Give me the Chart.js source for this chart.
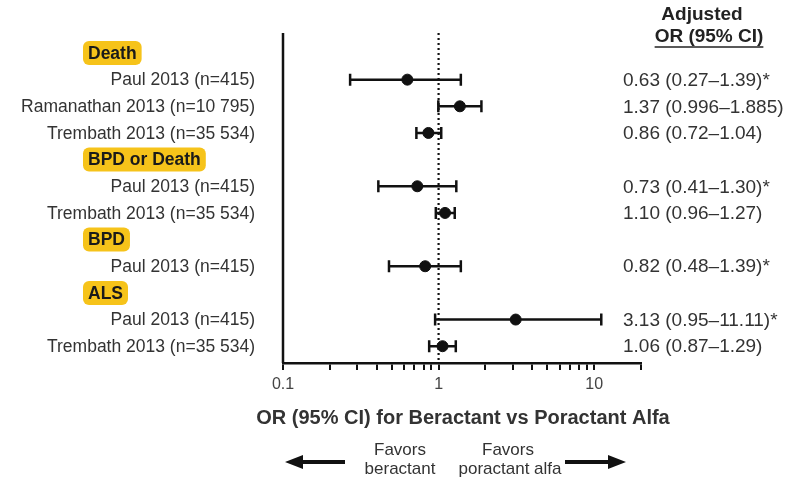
<!DOCTYPE html>
<html>
<head>
<meta charset="utf-8">
<script src="https://cdn.jsdelivr.net/npm/chart.js@4/dist/chart.umd.min.js"></script>
<style>
  html, body { margin: 0; padding: 0; background: #fff; }
  #wrap { width: 808px; height: 481px; }
</style>
</head>
<body>
<div id="wrap"><canvas id="forest" width="808" height="481"></canvas></div>
<script>
const groups = ['Death', 'BPD or Death', 'BPD', 'ALS'];
const studies = [
    'Paul 2013 (n=415)', 'Ramanathan 2013 (n=10 795)', 'Trembath 2013 (n=35 534)',
    'Paul 2013 (n=415)', 'Trembath 2013 (n=35 534)',
    'Paul 2013 (n=415)',
    'Paul 2013 (n=415)', 'Trembath 2013 (n=35 534)'
];
const studyGroup = [0, 0, 0, 1, 1, 2, 3, 3];
const oddsRatio = [0.63, 1.37, 0.86, 0.73, 1.10, 0.82, 3.13, 1.06];
const ciLow = [0.27, 0.996, 0.72, 0.41, 0.96, 0.48, 0.95, 0.87];
const ciHigh = [1.39, 1.885, 1.04, 1.30, 1.27, 1.39, 11.11, 1.29];
const orText = [
    '0.63 (0.27\u20131.39)*', '1.37 (0.996\u20131.885)', '0.86 (0.72\u20131.04)',
    '0.73 (0.41\u20131.30)*', '1.10 (0.96\u20131.27)',
    '0.82 (0.48\u20131.39)*',
    '3.13 (0.95\u201311.11)*', '1.06 (0.87\u20131.29)'
];
const xTicks = [0.1, 0.2, 0.3, 0.4, 0.5, 0.6, 0.7, 0.8, 0.9, 1, 2, 3, 4, 5, 6, 7, 8, 9, 10, 20];
const xTickLabels = { 0.1: '0.1', 1: '1', 10: '10' };

// row layout: each group header followed by its studies
const groupRow = [];
const studyRow = [];
let r = 0;
groups.forEach((g, gi) => {
    groupRow.push(r++);
    studyGroup.forEach((sg, si) => { if (sg === gi) studyRow[si] = r++; });
});

const FONT = '"Liberation Sans", Arial, sans-serif';
const TEXT = '#333';

const forestPlugin = {
    id: 'forest',
    beforeDatasetsDraw(chart) {
        const { ctx, chartArea, scales: { x, y } } = chart;
        ctx.save();
        // left axis
        ctx.strokeStyle = '#111';
        ctx.lineWidth = 2.5;
        ctx.beginPath();
        ctx.moveTo(chartArea.left, chartArea.top);
        ctx.lineTo(chartArea.left, chartArea.bottom);
        ctx.stroke();
        // line of no effect
        const x1 = x.getPixelForValue(1);
        ctx.setLineDash([2, 3]);
        ctx.lineWidth = 2.2;
        ctx.beginPath();
        ctx.moveTo(x1, chartArea.top);
        ctx.lineTo(x1, chartArea.bottom);
        ctx.stroke();
        ctx.setLineDash([]);
        // CI whiskers
        ctx.lineWidth = 2.5;
        ctx.strokeStyle = '#111';
        studies.forEach((s, i) => {
            const yy = y.getPixelForValue(studyRow[i]);
            const a = x.getPixelForValue(ciLow[i]);
            const b = x.getPixelForValue(ciHigh[i]);
            ctx.beginPath();
            ctx.moveTo(a, yy); ctx.lineTo(b, yy);
            ctx.moveTo(a, yy - 6); ctx.lineTo(a, yy + 6);
            ctx.moveTo(b, yy - 6); ctx.lineTo(b, yy + 6);
            ctx.stroke();
        });
        ctx.restore();
    },
    afterDraw(chart) {
        const { ctx, scales: { y } } = chart;
        ctx.save();
        ctx.textBaseline = 'middle';
        // group headers with highlight
        groups.forEach((g, gi) => {
            const yy = y.getPixelForValue(groupRow[gi]);
            ctx.font = 'bold 17.5px ' + FONT;
            const w = ctx.measureText(g).width;
            ctx.fillStyle = '#F6C31A';
            ctx.beginPath();
            ctx.roundRect(83, yy - 12, w + 10, 24, 6);
            ctx.fill();
            ctx.fillStyle = '#1a1a1a';
            ctx.textAlign = 'left';
            ctx.fillText(g, 88, yy + 1);
        });
        // study labels and OR text
        studies.forEach((s, i) => {
            const yy = y.getPixelForValue(studyRow[i]);
            ctx.fillStyle = TEXT;
            ctx.font = '17.5px ' + FONT;
            ctx.textAlign = 'right';
            ctx.fillText(s, 255, yy + 1);
            ctx.font = '19px ' + FONT;
            ctx.textAlign = 'left';
            ctx.fillText(orText[i], 623, yy + 1);
        });
        // column header
        ctx.fillStyle = '#222';
        ctx.font = 'bold 19px ' + FONT;
        ctx.textAlign = 'center';
        ctx.fillText('Adjusted', 702, 15);
        ctx.fillText('OR (95% CI)', 709, 37);
        const hw = ctx.measureText('OR (95% CI)').width;
        ctx.strokeStyle = '#222';
        ctx.lineWidth = 1.5;
        ctx.beginPath();
        ctx.moveTo(709 - hw / 2, 47);
        ctx.lineTo(709 + hw / 2, 47);
        ctx.stroke();
        // axis title
        ctx.fillStyle = TEXT;
        ctx.font = 'bold 20px ' + FONT;
        ctx.fillText('OR (95% CI) for Beractant vs Poractant Alfa', 463, 418);
        // favors labels
        ctx.font = '17px ' + FONT;
        ctx.fillText('Favors', 400, 450);
        ctx.fillText('beractant', 400, 469);
        ctx.fillText('Favors', 508, 450);
        ctx.fillText('poractant alfa', 510, 469);
        // arrows
        ctx.fillStyle = '#111';
        ctx.strokeStyle = '#111';
        ctx.lineWidth = 4;
        ctx.beginPath();
        ctx.moveTo(300, 462); ctx.lineTo(345, 462);
        ctx.moveTo(565, 462); ctx.lineTo(610, 462);
        ctx.stroke();
        ctx.beginPath();
        ctx.moveTo(285, 462); ctx.lineTo(303, 455); ctx.lineTo(303, 469); ctx.closePath();
        ctx.moveTo(626, 462); ctx.lineTo(608, 455); ctx.lineTo(608, 469); ctx.closePath();
        ctx.fill();
        ctx.restore();
    }
};

new Chart(document.getElementById('forest').getContext('2d'), {
    type: 'scatter',
    data: {
        datasets: [{
            data: oddsRatio.map((v, i) => ({ x: v, y: studyRow[i] })),
            backgroundColor: '#111',
            borderColor: '#111',
            pointRadius: 5.5,
            pointHoverRadius: 5.5,
        }],
    },
    options: {
        responsive: false,
        animation: false,
        events: [],
        layout: { padding: { left: 283, right: 167, top: 33, bottom: 0 } },
        plugins: { legend: { display: false }, tooltip: { enabled: false } },
        scales: {
            x: {
                type: 'logarithmic',
                min: 0.1,
                max: 20,
                afterBuildTicks: (scale) => { scale.ticks = xTicks.map(v => ({ value: v })); },
                afterFit: (scale) => { scale.height = 118; },
                ticks: {
                    autoSkip: false,
                    maxRotation: 0,
                    padding: 5,
                    color: '#444',
                    font: { family: FONT, size: 16 },
                    callback: (v) => xTickLabels[v] || '',
                },
                grid: { drawOnChartArea: false, drawTicks: true, tickLength: 7, color: '#111', lineWidth: 2 },
                border: { display: true, color: '#111', width: 2.5 },
            },
            y: {
                display: false,
                reverse: true,
                min: -0.75,
                max: 11.63,
            },
        },
    },
    plugins: [forestPlugin],
});
</script>
</body>
</html>
